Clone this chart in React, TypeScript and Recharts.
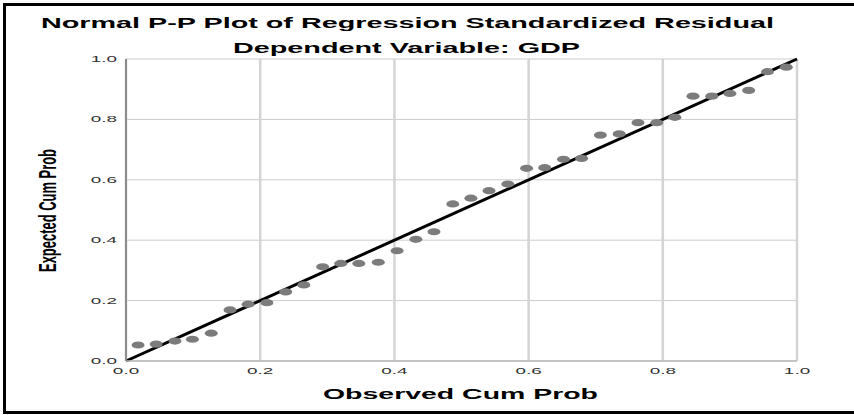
import { ScatterChart, Scatter, XAxis, YAxis, CartesianGrid, ReferenceLine } from "recharts";

const observedCumProb = [
  0.018, 0.045, 0.073, 0.099, 0.127, 0.155, 0.182, 0.21, 0.238, 0.265, 0.293, 0.32,
  0.347, 0.376, 0.404, 0.432, 0.459, 0.487, 0.514, 0.541, 0.569, 0.597, 0.624, 0.652,
  0.679, 0.707, 0.735, 0.763, 0.791, 0.818, 0.845, 0.873, 0.9, 0.928, 0.956, 0.984,
];
const expectedCumProb = [
  0.053, 0.056, 0.066, 0.072, 0.092, 0.169, 0.188, 0.193, 0.229, 0.252, 0.312, 0.323,
  0.323, 0.327, 0.365, 0.403, 0.428, 0.52, 0.539, 0.564, 0.586, 0.638, 0.64, 0.668,
  0.671, 0.748, 0.752, 0.789, 0.789, 0.807, 0.877, 0.877, 0.886, 0.896, 0.958, 0.973,
];
const axisTicks = [0, 0.2, 0.4, 0.6, 0.8, 1.0];
const diagonal = [
  { x: 0, y: 0 },
  { x: 1, y: 1 },
];

const FONT = "'Liberation Sans', Arial, sans-serif";
const STRETCH = 2.1;

const XTick = ({ x, y, payload }: any) => (
  <g transform={`translate(${x},${y})`}>
    <text transform={`scale(${STRETCH},1)`} y={13} textAnchor="middle" fontSize={9} fill="#333" fontFamily={FONT}>
      {Number(payload.value).toFixed(1)}
    </text>
  </g>
);

const YTick = ({ x, y, payload }: any) => (
  <g transform={`translate(${x - 9},${y})`}>
    <text transform={`scale(${STRETCH},1)`} y={3} textAnchor="end" fontSize={9} fill="#333" fontFamily={FONT}>
      {Number(payload.value).toFixed(1)}
    </text>
  </g>
);

const Dot = ({ cx, cy }: any) => <ellipse cx={cx} cy={cy} rx={6.5} ry={3.6} fill="#7c7c7c" />;

export default function App() {
  const data = observedCumProb.map((o, i) => ({ observed: o, expected: expectedCumProb[i] }));

  return (
    <div style={{ position: "fixed", left: 0, top: 0, width: 854, height: 415, overflow: "hidden", background: "#fff" }}>
      <div style={{ position: "absolute", left: 3, top: 3, width: 870, height: 405, border: "3px solid #000", boxSizing: "content-box" }} />
      <ScatterChart width={854} height={415} margin={{ top: 59, right: 57, bottom: 24, left: 0 }} style={{ position: "absolute", left: 0, top: 0 }}>
        <CartesianGrid horizontal vertical={false} stroke="#cccccc" strokeWidth={1} />
        <CartesianGrid horizontal={false} vertical stroke="#d4d4d4" strokeWidth={2.5} />
        <XAxis
          type="number"
          dataKey="observed"
          domain={[0, 1]}
          ticks={axisTicks}
          tick={<XTick />}
          tickLine={false}
          tickSize={0}
          tickMargin={0}
          height={30}
          axisLine={{ stroke: "#b8b8b8", strokeWidth: 1.5 }}
        />
        <YAxis
          type="number"
          dataKey="expected"
          domain={[0, 1]}
          ticks={axisTicks}
          tick={<YTick />}
          tickLine={false}
          tickSize={0}
          tickMargin={0}
          width={126}
          axisLine={{ stroke: "#8c8c8c", strokeWidth: 2 }}
        />
        <Scatter data={data} shape={<Dot />} isAnimationActive={false} />
        <ReferenceLine segment={diagonal} stroke="#000" strokeWidth={3} ifOverflow="visible" />
      </ScatterChart>
      <svg width={854} height={415} style={{ position: "absolute", left: 0, top: 0, pointerEvents: "none" }}>
        <text x={407.5} y={28} textAnchor="middle" fontSize={14} fontWeight="bold" fontFamily={FONT} textLength={733} lengthAdjust="spacingAndGlyphs">
          Normal P-P Plot of Regression Standardized Residual
        </text>
        <text x={406.5} y={53} textAnchor="middle" fontSize={14} fontWeight="bold" fontFamily={FONT} textLength={347} lengthAdjust="spacingAndGlyphs">
          Dependent Variable: GDP
        </text>
        <text x={460.5} y={399} textAnchor="middle" fontSize={15} fontWeight="bold" fontFamily={FONT} textLength={275} lengthAdjust="spacingAndGlyphs">
          Observed Cum Prob
        </text>
        <g transform="translate(37,210.5) rotate(-90) scale(1,1.75)">
          <text x={0} y={11} textAnchor="middle" fontSize={14} fontWeight="bold" fontFamily={FONT} textLength={123} lengthAdjust="spacingAndGlyphs">
            Expected Cum Prob
          </text>
        </g>
      </svg>
    </div>
  );
}
